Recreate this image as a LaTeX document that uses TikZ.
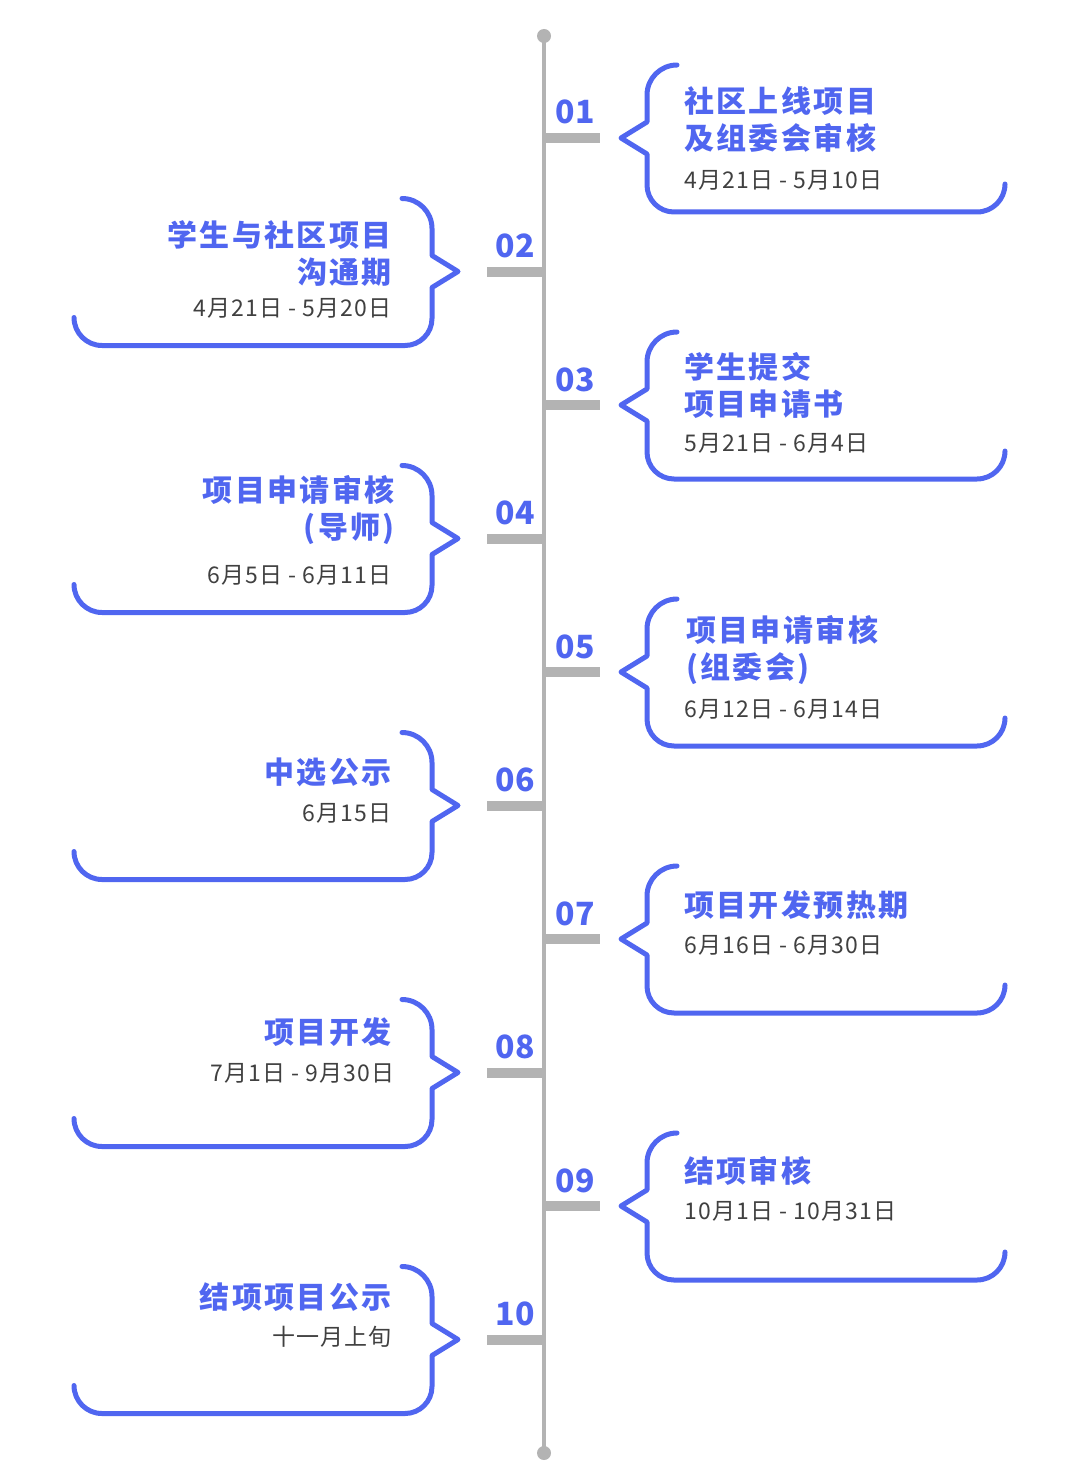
\documentclass[tikz,border=0pt]{standalone}
\usepackage{fontspec}
\setmainfont{Noto Sans CJK SC}
\newfontfamily\cjkfont{Noto Sans CJK SC}
\newfontfamily\cjkspaced[LetterSpace=8]{Noto Sans CJK SC}
\newfontfamily\cjkdates[LetterSpace=5]{Noto Sans CJK SC}
\newcommand\phasefont{\cjkspaced\bfseries\fontsize{30}{37}\selectfont}
\newcommand\stepfont{\cjkfont\bfseries\fontsize{32}{32}\selectfont}
\newcommand\periodfont{\cjkdates\fontsize{23}{28}\selectfont}

\definecolor{tlblue}{RGB}{80,102,240}
\definecolor{tlgray}{RGB}{179,179,179}
\definecolor{tltext}{RGB}{64,64,64}

\begin{document}
\begin{tikzpicture}[x=1pt, y=-1pt,
  axis/.style={line width=4pt, tlgray},
  tickbar/.style={line width=10pt, tlgray},
  bracket/.style={line width=5pt, tlblue, line join=round, line cap=round},
  stepnum/.style={tlblue, font=\stepfont, inner sep=0pt, anchor=base},
  phase/.style={tlblue, font=\phasefont, inner sep=0pt},
  period/.style={tltext, font=\periodfont, inner sep=0pt}]

  \useasboundingbox (0,0) rectangle (1080,1479);

  % Axis
  \coordinate (axtop) at (544,36);
  \coordinate (axbot) at (544,1453);
  \draw[axis] (axtop) -- (axbot);
  \fill[tlgray] (axtop) circle (7);
  \fill[tlgray] (axbot) circle (7);

  % Right side (01, 03, ...)
  \foreach \n/\k in {138/01, 405/03, 672/05, 939/07, 1206/09}{
    \draw[tickbar] (544,\n) -- (600,\n);
    \node[stepnum] (s\k) at (575,\n-14) {\k};
    \draw[bracket] (677,\n-73) arc[start angle=270, end angle=180, radius=30]
      -- (647,\n-16) -- (621,\n) -- (647,\n+16) -- (647,\n+47)
      arc[start angle=180, end angle=90, radius=27] -- (977,\n+74)
      arc[start angle=90, end angle=0, radius=28];
  }

  % Left side (02, 04, ...)
  \foreach \n/\k in {271.5/02, 538.5/04, 805.5/06, 1072.5/08, 1339.5/10}{
    \draw[tickbar] (487,\n) -- (544,\n);
    \node[stepnum] (s\k) at (515,\n-14) {\k};
    \draw[bracket] (402,\n-73) arc[start angle=270, end angle=360, radius=30]
      -- (432,\n-16) -- (458,\n) -- (432,\n+16) -- (432,\n+47)
      arc[start angle=0, end angle=90, radius=27] -- (102,\n+74)
      arc[start angle=90, end angle=180, radius=28];
  }

  % Texts right
  \node[phase, anchor=west, align=left] (t01) at (684,120) {社区上线项目\\及组委会审核};
  \node[period, anchor=west] (d01) at (684,180) {4月21日 - 5月10日};
  \node[phase, anchor=west, align=left] (t03) at (684,385.5) {学生提交\\项目申请书};
  \node[period, anchor=west] (d03) at (684,443) {5月21日 - 6月4日};
  \node[phase, anchor=west, align=left] (t05) at (686,650.5) {项目申请审核\\(组委会)};
  \node[period, anchor=west] (d05) at (684,709) {6月12日 - 6月14日};
  \node[phase, anchor=west] (t07) at (684,905) {项目开发预热期};
  \node[period, anchor=west] (d07) at (684,945) {6月16日 - 6月30日};
  \node[phase, anchor=west] (t09) at (684,1171) {结项审核};
  \node[period, anchor=west] (d09) at (684,1211) {10月1日 - 10月31日};

  % Texts left
  \node[phase, anchor=east, align=right] (t02) at (392,253.5) {学生与社区项目\\沟通期};
  \node[period, anchor=east] (d02) at (392,308) {4月21日 - 5月20日};
  \node[phase, anchor=east, align=right] (t04) at (395,510.5) {项目申请审核\\(导师)};
  \node[period, anchor=east] (d04) at (392,575) {6月5日 - 6月11日};
  \node[phase, anchor=east] (t06) at (392,772) {中选公示};
  \node[period, anchor=east] (d06) at (392,813) {6月15日};
  \node[phase, anchor=east] (t08) at (392,1032) {项目开发};
  \node[period, anchor=east] (d08) at (395,1073) {7月1日 - 9月30日};
  \node[phase, anchor=east] (t10) at (392,1297) {结项项目公示};
  \node[period, anchor=east] (d10) at (392,1337) {十一月上旬};

\end{tikzpicture}
\end{document}
